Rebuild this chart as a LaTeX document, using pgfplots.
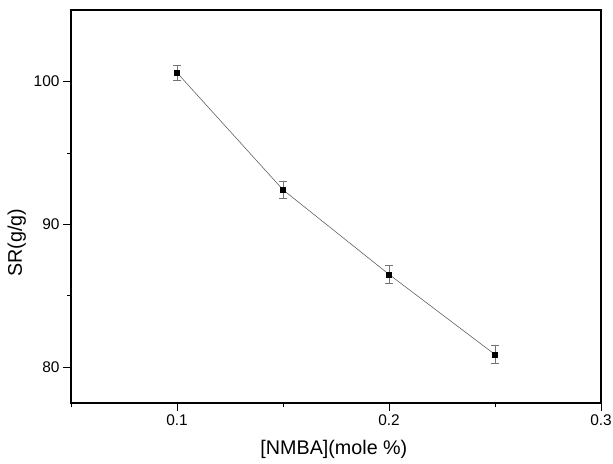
\documentclass[border=0pt]{standalone}
\usepackage{pgfplots}
\pgfplotsset{compat=1.18}
\usepackage{fontspec}
\setmainfont{Liberation Sans}
\begin{document}
\begin{tikzpicture}
\useasboundingbox (-71bp,-61bp) rectangle (542bp,403bp);
\begin{axis}[
  at={(0,0)}, anchor=south west,
  scale only axis, width=530bp, height=393bp,
  xmin=0.05, xmax=0.3, ymin=77.5, ymax=105,
  xtick={0.1,0.2,0.3}, xticklabels={0.1,0.2,0.3},
  minor xtick={0.05,0.15,0.25},
  ytick={80,90,100}, yticklabels={80,90,100},
  minor ytick={85,95},
  tick align=outside, tick pos=left,
  major tick length=8bp, minor tick length=4bp,
  axis line style={line width=1.3bp},
  every tick/.style={black, line width=0.8bp},
  xticklabel style={font=\fontsize{15.5}{17}\selectfont},
  yticklabel style={font=\fontsize{15.5}{17}\selectfont},
  xlabel={[NMBA](mole \%)}, ylabel={SR(g/g)},
  label style={font=\fontsize{19.8}{22}\selectfont},
  xlabel style={at={(axis description cs:0.496,-0.1323)}, anchor=base},
  ylabel style={at={(axis description cs:-0.0925,0.408)}, anchor=base},
]
\addplot[color=black!65, line width=0.55bp, mark=square*, mark size=2.5bp,
  mark options={black, solid},
  error bars/.cd, y dir=both, y explicit,
  error bar style={black!55, line width=0.7bp},
  error mark options={black!55, line width=0.7bp, mark size=4bp, rotate=90}]
  table[x=x, y=y, y error=e] {
x y e
0.10 100.61 0.55
0.15 92.42 0.60
0.20 86.50 0.65
0.25 80.89 0.62
};
\end{axis}
\end{tikzpicture}
\end{document}
